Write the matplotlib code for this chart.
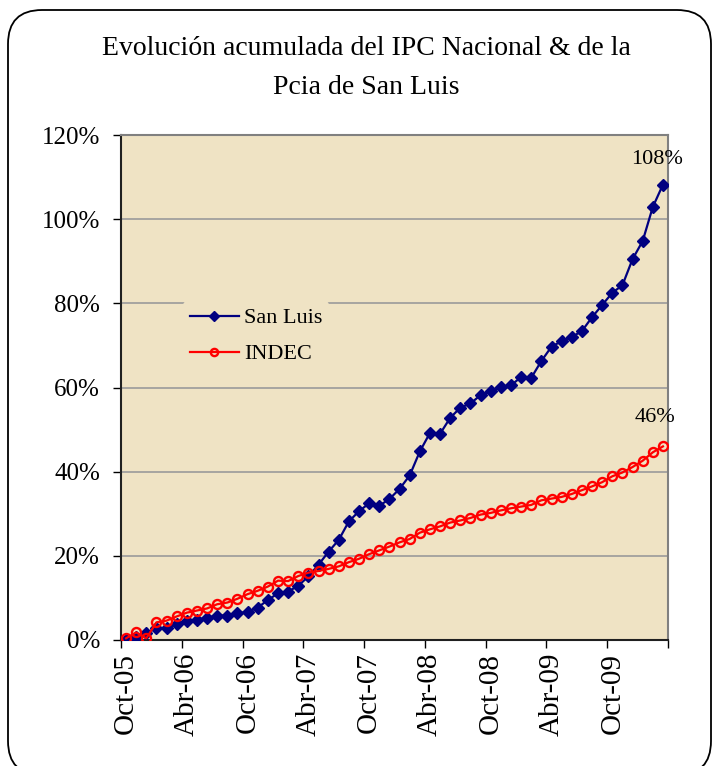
import matplotlib
matplotlib.use("Agg")
import matplotlib.pyplot as plt
from matplotlib.patches import FancyBboxPatch
from matplotlib.ticker import FixedLocator, PercentFormatter

# accumulated CPI variation since Oct-05, monthly, in %
san_luis = [0.0, 0.8, 1.7, 2.8, 2.8, 3.8, 4.4, 4.8, 5.3, 5.8,
            5.8, 6.3, 6.7, 7.7, 9.5, 11.1, 11.5, 12.9, 15.1, 17.9,
            21.0, 23.8, 28.2, 30.6, 32.5, 31.9, 33.5, 35.9, 39.1, 44.8,
            49.2, 49.0, 52.8, 55.2, 56.2, 58.2, 59.1, 60.1, 60.5, 62.5,
            62.3, 66.3, 69.7, 71.0, 72.0, 73.4, 76.7, 79.6, 82.5, 84.3,
            90.5, 94.8, 102.9, 108.2]
indec = [0.4, 1.8, 0.4, 4.2, 4.6, 5.6, 6.5, 7.0, 7.5, 8.5,
         8.9, 9.8, 10.9, 11.7, 12.7, 14.1, 14.0, 15.2, 16.0, 16.4,
         16.9, 17.5, 18.5, 19.3, 20.4, 21.3, 22.2, 23.2, 24.0, 25.5,
         26.3, 27.0, 27.9, 28.4, 29.0, 29.8, 30.2, 30.8, 31.3, 31.7,
         32.1, 33.2, 33.6, 34.0, 34.7, 35.6, 36.5, 37.5, 38.9, 39.8,
         41.1, 42.6, 44.6, 46.0]
tick_labels = ["Oct-05", "Abr-06", "Oct-06", "Abr-07", "Oct-07",
               "Abr-08", "Oct-08", "Abr-09", "Oct-09"]

plt.rcParams['font.family'] = ['Liberation Serif', 'DejaVu Serif']

bg = '#EFE3C4'
x = list(range(len(san_luis)))

fig = plt.figure(figsize=(7.13, 7.66), dpi=100)
# rounded frame, its bottom edge runs just past the picture
fig.patches.append(FancyBboxPatch((0.08, -0.09), 7.03, 7.65,
                                  boxstyle="round,pad=0,rounding_size=0.34",
                                  transform=fig.dpi_scale_trans, fill=False,
                                  edgecolor='black', linewidth=1.3))

ax = fig.add_axes([121 / 713, 1 - 640 / 766, 547 / 713, 505 / 766])
ax.set_facecolor(bg)

ax.plot(x, san_luis, color='#000080', marker='D', markersize=6,
        linewidth=1.6, label='San Luis', zorder=3)
ax.plot(x, indec, color='#FF0000', marker='o', markersize=6.5,
        markerfacecolor='none', markeredgewidth=1.7, linewidth=1.6,
        label='INDEC', zorder=3)

ax.set_xlim(-0.5, len(x) - 0.5)
ax.set_ylim(0, 120)
ax.set_yticks(range(0, 121, 20))
ax.yaxis.set_major_formatter(PercentFormatter(decimals=0))
ax.yaxis.grid(True, color='#9A9A9A', linewidth=1.2)
ax.set_axisbelow(True)

ax.xaxis.set_major_locator(FixedLocator([i - 0.5 for i in range(0, len(x) + 1, 6)]))
ax.xaxis.set_minor_locator(FixedLocator(list(range(0, len(x), 6))))
ax.set_xticklabels([])
ax.set_xticklabels(tick_labels, minor=True, rotation=90)
ax.tick_params(axis='x', which='major', length=6, width=1, direction='out')
ax.tick_params(axis='x', which='minor', length=0, pad=9, labelsize=21)
ax.tick_params(axis='y', length=6, width=1, direction='out', labelsize=18, pad=9)

for side in ['top', 'right']:
    ax.spines[side].set_color('#808080')
    ax.spines[side].set_linewidth(1.5)
for side in ['left', 'bottom']:
    ax.spines[side].set_color('#202020')
    ax.spines[side].set_linewidth(1.5)

ax.text(x[-1] - 0.6, san_luis[-1] + 3.8, '108%', ha='center', va='bottom', fontsize=16)
ax.text(x[-1] - 0.8, indec[-1] + 4.5, '46%', ha='center', va='bottom', fontsize=16)

leg = ax.legend(loc='upper left', bbox_to_anchor=(172 / 713, 1 - 290 / 766),
                bbox_transform=fig.transFigure, frameon=True, fontsize=16,
                handlelength=2.2, labelspacing=0.7, borderpad=0.3,
                handletextpad=0.25, markerscale=0.8)
leg.get_frame().set_facecolor(bg)
leg.get_frame().set_edgecolor('none')
leg.get_frame().set_alpha(1)

fig.text(366 / 713, 1 - 68 / 766, 'Evolución acumulada del IPC Nacional & de la\nPcia de San Luis',
         ha='center', va='center', fontsize=20, linespacing=1.75)

fig.savefig('out.png', dpi=100)
